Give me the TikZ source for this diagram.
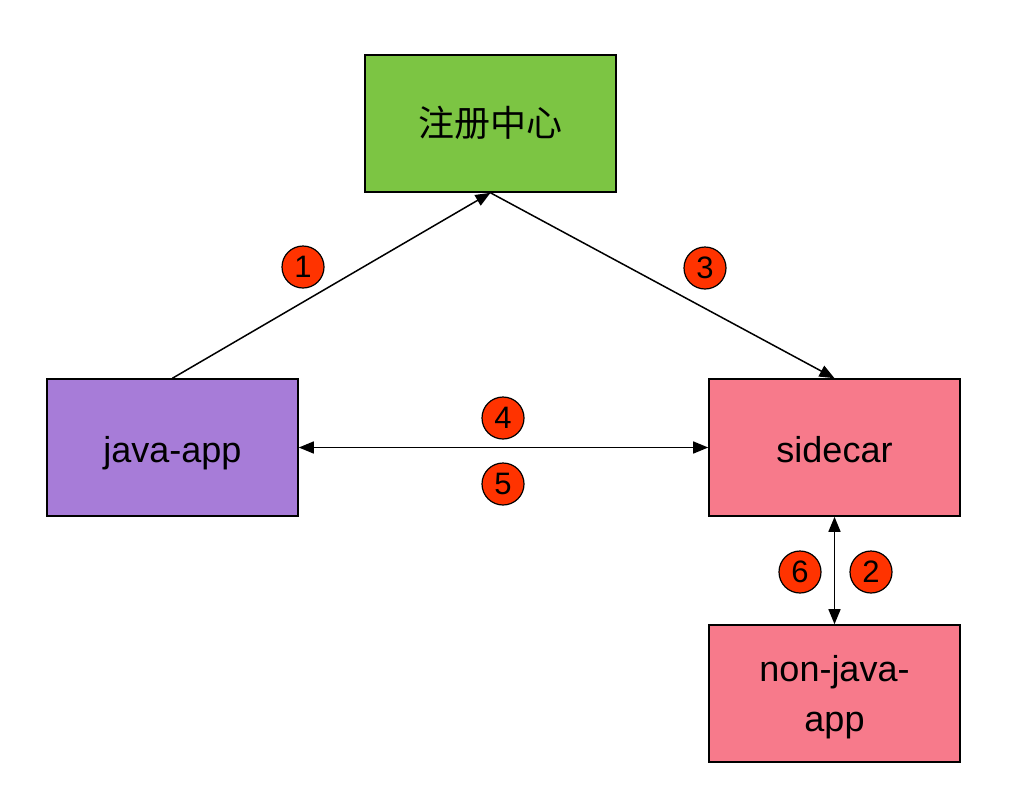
\documentclass[tikz,border=0pt]{standalone}
\usepackage{fontspec}
\setmainfont{Liberation Sans}
\newfontfamily\cjk{Noto Sans CJK SC}
\usetikzlibrary{arrows.meta}
\definecolor{regGreen}{HTML}{7CC543}
\definecolor{appPurple}{HTML}{A77CD8}
\definecolor{carPink}{HTML}{F77A8B}
\definecolor{numRed}{HTML}{FF3300}
\tikzset{
  box/.style={draw=black, line width=1.6pt, minimum width=251pt, minimum height=137pt, inner sep=0pt, align=center, font=\fontsize{36}{50}\selectfont},
  oneline/.style={text height=36pt, text depth=7pt},
  num/.style={circle, draw=black, line width=1.2pt, fill=numRed, minimum size=42pt, inner sep=0pt, font=\fontsize{31}{31}\selectfont},
  conn/.style={line width=1.5pt, -{Triangle[length=15pt,width=12pt]}},
  biconn/.style={line width=1.5pt, {Triangle[length=15pt,width=12pt]}-{Triangle[length=15pt,width=12pt]}}
}
\begin{document}
\begin{tikzpicture}[x=1pt,y=-1pt]
\useasboundingbox[fill=white] (0,0) rectangle (1032,804);
\node[box, fill=regGreen, text height=34pt, text depth=9pt] (reg) at (490.5,123.5) {\cjk 注册中心};
\node[box, oneline, fill=appPurple] (java) at (172.5,447.5) {java-app};
\node[box, oneline, fill=carPink] (side) at (834.5,447.5) {sidecar};
\node[box, fill=carPink] (non) at (834.5,693.5) {\rule{0pt}{34pt}non-java-\\app};
\draw[conn] (java.north) -- (reg.south);
\draw[conn] (reg.south) -- (side.north);
\draw[biconn] (java.east) -- (side.west);
\draw[biconn] (side.south) -- (non.north);
\node[num] (n1) at (303,267) {1};
\node[num] (n3) at (705,268) {3};
\node[num] (n4) at (503,418) {4};
\node[num] (n5) at (503,484) {5};
\node[num] (n6) at (800,572) {6};
\node[num] (n2) at (871,572) {2};
\end{tikzpicture}
\end{document}
